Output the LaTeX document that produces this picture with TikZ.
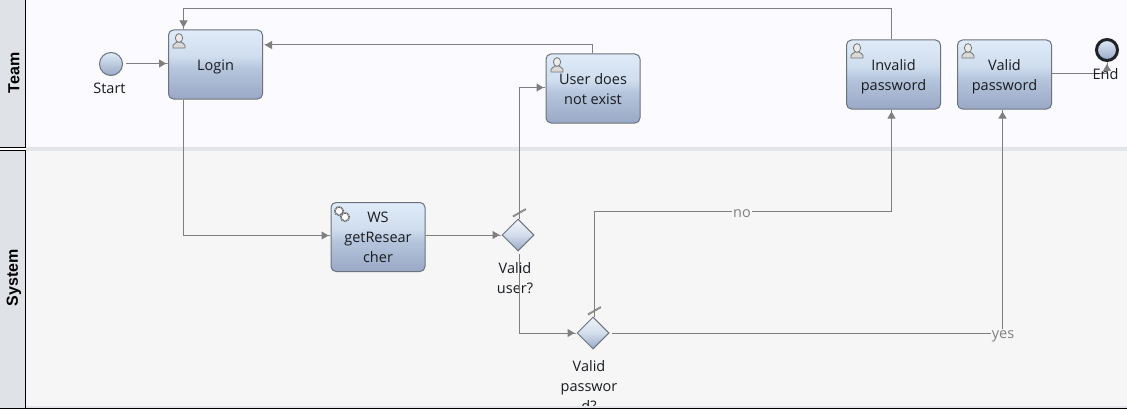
\documentclass[tikz,border=0pt]{standalone}
\usepackage{fontspec}
\setmainfont{Open Sans}
\newfontfamily\headfont{Liberation Sans}
\usetikzlibrary{arrows.meta,shapes.geometric,calc}
\newcommand{\dropline}[2]{\raisebox{-#1}[\height][\depth]{#2}}
\definecolor{flow}{HTML}{7F7F7F}
\definecolor{edge}{HTML}{6C737D}
\definecolor{ink}{HTML}{181B20}
\definecolor{hdr}{HTML}{DFE2E7}
\definecolor{bandc}{HTML}{E3E5E9}
\definecolor{teambg}{HTML}{FAFAFF}
\definecolor{sysbg}{HTML}{F6F6F6}
\definecolor{gtop}{HTML}{DFEBF8}
\definecolor{gmid}{HTML}{CFDDEE}
\definecolor{glow}{HTML}{B5C5DC}
\definecolor{gbot}{HTML}{99A9C6}
\definecolor{dmid}{HTML}{D3DDEC}
\definecolor{dtop}{HTML}{F0F4FA}
\pgfdeclareverticalshading{taskshade}{100bp}{color(0bp)=(gbot); color(25bp)=(gbot); color(47bp)=(glow); color(56bp)=(gmid); color(75bp)=(gtop); color(100bp)=(gtop)}
\pgfdeclareverticalshading{gateshade}{100bp}{color(0bp)=(gbot); color(25bp)=(gbot); color(50bp)=(dmid); color(75bp)=(dtop); color(100bp)=(dtop)}
\tikzset{
  x=1pt,y=-1pt,
  tasknode/.style={draw=edge,line width=1pt,rounded corners=5pt,minimum width=94pt,minimum height=69pt,inner sep=0pt,
    shading=taskshade,text=ink,align=center,font=\fontsize{14.5}{20}\selectfont},
  gatenode/.style={diamond,aspect=1,draw=edge,line width=1pt,minimum width=32pt,minimum height=32pt,inner sep=0pt,
    shading=gateshade},
  startnode/.style={circle,draw=edge,line width=1pt,minimum size=23pt,inner sep=0pt,top color=gtop,bottom color=gbot},
  endnode/.style={circle,draw=black!70!edge,line width=3pt,minimum size=21pt,inner sep=0pt,top color=gtop,bottom color=gbot},
  lbl/.style={text=ink,align=center,inner sep=0pt,font=\fontsize{14.5}{20}\selectfont},
  flowlbl/.style={text=flow,fill=sysbg,inner sep=1pt,font=\fontsize{14.5}{17}\selectfont},
  headlbl/.style={rotate=90,text=black,inner sep=0pt,font=\headfont\bfseries\fontsize{16}{18}\selectfont},
  conn/.style={draw=flow,line width=1pt},
  arr/.style={conn,-{Triangle[length=7pt,width=8pt,sep=0pt,fill=flow]Rectangle[length=2pt,width=1pt,fill=flow]}},
  slashmark/.style={draw=flow,line width=2pt,dash pattern=on 1.2pt off 0.5pt},
  usericon/.pic={
    \draw[draw=black!55,fill=black!15,line width=.8pt] (-6,10) -- (-6,7.5) .. controls (-6,5.5) and (-3,5.5) .. (-2,4) -- (2,4) .. controls (3,5.5) and (6,5.5) .. (6,7.5) -- (6,10) -- cycle;
    \draw[draw=black!55,fill=black!8,line width=.8pt] (0,0) ellipse (3.6pt and 4.4pt);
  },
  gearicon/.pic={
    \draw[draw=black!60,line width=1.8pt,dash pattern=on 1pt off .7pt,fill=white] (0,0) circle (4.2pt);
    \draw[draw=black!60,line width=1.8pt,dash pattern=on 1pt off .7pt,fill=white] (6,6) circle (4.2pt);
    \fill[white] (0,0) circle (1.5pt) (6,6) circle (1.5pt);
  }
}
\begin{document}
\begin{tikzpicture}
\useasboundingbox (0,0) rectangle (1127,412);
\fill[white] (0,0) rectangle (1127,412);
% lanes
\fill[teambg] (26,0) rectangle (1127,147);
\fill[sysbg] (26,151) rectangle (1127,406);
\fill[bandc] (26,147) rectangle (1127,151);
\fill[hdr] (0,0) rectangle (25,147);
\fill[hdr] (0,150) rectangle (25,408);
\draw[black,line width=1pt] (0,147.5) -- (25.5,147.5) -- (25.5,0);
\draw[black,line width=1pt] (0,150.5) -- (25.5,150.5) -- (25.5,408);
\node[headlbl] (teamh) at (14,73) {Team};
\node[headlbl] (sysh) at (14,278) {System};
% nodes
\node[startnode] (start) at (111,64) {};
\node[lbl] (startl) at (109.5,88) {Start};
\node[tasknode] (login) at (215.5,64.5) {\dropline{2pt}{Login}};
\node[tasknode] (user) at (593,88.5) {\dropline{1pt}{User does}\\\dropline{1pt}{not exist}};
\node[tasknode] (invalid) at (893.5,74.5) {\dropline{2pt}{Invalid}\\\dropline{2pt}{password}};
\node[tasknode] (valid) at (1004.5,74.5) {\dropline{2pt}{Valid}\\\dropline{2pt}{password}};
\node[endnode] (end) at (1107,50) {};
\node[tasknode] (ws) at (378,237) {WS\\getResear\\cher};
\node[gatenode] (gu) at (518,235) {};
\node[gatenode] (gp) at (593,333) {};
\node[lbl] (gul) at (515,278) {Valid\\user?};
\node[lbl,anchor=north] (gpl) at (589,360) {Valid\\passwor\\d?};
\coordinate (gustem) at (519.5,219);
\coordinate (gpstem) at (594.5,317);
\coordinate (gudown) at (519.5,254);
\coordinate (gpout) at (612,333.5);
\coordinate (startout) at (126,63.5);
% icons
\pic at (179,38) {usericon};
\pic at (557,62) {usericon};
\pic at (857,48) {usericon};
\pic at (968,48) {usericon};
\pic at (339,211) {gearicon};
% connectors
\draw[arr] (startout) -- (startout -| login.west);
\draw[arr] (gudown) |- (gp.west);
\draw[arr] (login.south -| 183.5,0) |- (ws.west |- 0,235.5);
\draw[arr] (ws.east |- gu.west) -- (gu.west);
\draw[arr] (gustem) |- (user.west |- 0,87.5);
\draw[arr] (user.north -| 592.5,0) |- (login.east |- 0,45);
\draw[arr] (invalid.north -| 891.5,0) |- (183.5,9) -- (login.north -| 183.5,0);
\draw[arr] (gpstem) |- (891.5,211.5) -- (invalid.south -| 891.5,0);
\draw[arr] (gpout) -| (valid.south -| 1002.5,0);
\draw[arr] (valid.east |- 0,73.5) -| (end.south);
\draw[slashmark] (513,216.5) -- (526,209);
\draw[slashmark] (588,314.5) -- (601,307);
% flow labels
\node[flowlbl] (nolbl) at (742,213.5) {no};
\node[flowlbl] (yeslbl) at (1003,336) {yes};
\node[lbl] (endl) at (1105.5,74) {End};
% bottom edge of the canvas
\fill[bandc] (26,406) rectangle (1127,408);
\fill[black] (0,408) rectangle (1127,409);
\fill[white] (0,409) rectangle (1127,412);
\end{tikzpicture}
\end{document}
